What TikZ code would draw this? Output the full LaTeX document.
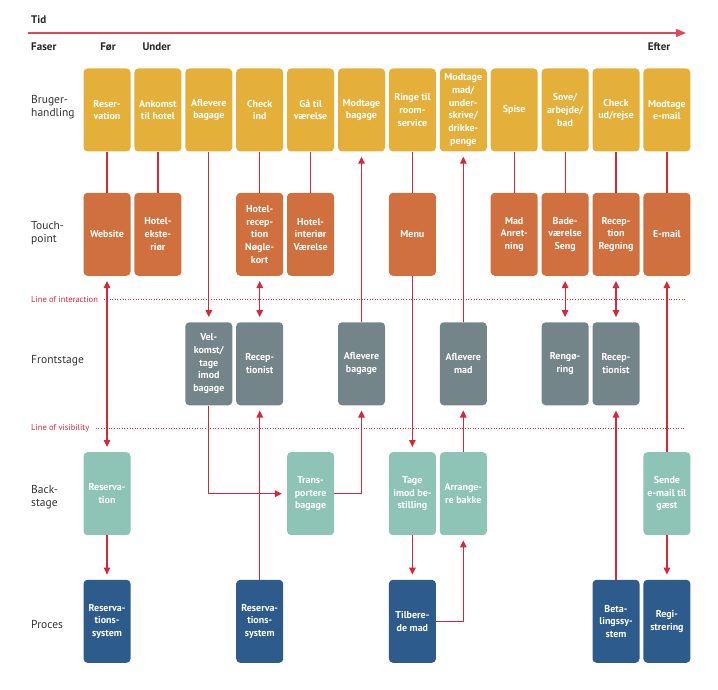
\documentclass[tikz,border=0pt]{standalone}
\usepackage{fontspec}
\setmainfont{PT Sans}
\usetikzlibrary{arrows.meta,positioning}
\definecolor{brugcol}{HTML}{E4B03A}
\definecolor{touchcol}{HTML}{D0703E}
\definecolor{frontcol}{HTML}{738589}
\definecolor{backcol}{HTML}{8EC4B5}
\definecolor{proccol}{HTML}{2D5B8C}
\definecolor{linecol}{HTML}{D62839}

\begin{document}
\begin{tikzpicture}[
    x=1pt,y=-1pt,
    node distance=3.5pt,
    box/.style={rounded corners=4pt,minimum height=83pt,minimum width=47pt,inner sep=0pt,align=center,text=white,font=\bfseries\fontsize{10}{12.7}\selectfont},
    brug/.style={box,fill=brugcol},
    touch/.style={box,fill=touchcol},
    front/.style={box,fill=frontcol},
    back/.style={box,fill=backcol},
    proc/.style={box,fill=proccol},
    rowlbl/.style={anchor=west,align=left,text=black!80,font=\fontsize{11.5}{13.5}\selectfont},
    head/.style={anchor=west,text=black!85,font=\bfseries\fontsize{11}{13}\selectfont},
    link/.style={linecol,line width=1.2pt},
    arr/.style={link,-{Triangle[length=7pt,width=6.5pt]},shorten >=5pt},
    darr/.style={link,{Triangle[length=7pt,width=6.5pt]}-{Triangle[length=7pt,width=6.5pt]},shorten >=5pt,shorten <=5pt},
    timearr/.style={linecol!85,line width=1.3pt,-{Triangle[length=10pt,width=8pt]}},
    sepline/.style={linecol,line width=0.7pt,dash pattern=on 1pt off 1.6pt},
    seplbl/.style={anchor=west,text=linecol,font=\fontsize{8.5}{10}\selectfont}
]
\useasboundingbox (0,0) rectangle (718,690);

% time axis and phases
\node[head] (tid) at (27.7,20) {Tid};
\coordinate (tstart) at (27.7,33);
\coordinate (tend) at (686,33);
\draw[timearr] (tstart) -- (tend);
\node[head] (faser) at (27.7,47) {Faser};
\node[head,anchor=center] (foer) at (108,47) {Før};
\node[head,anchor=center] (under) at (156.7,47) {Under};
\node[head,anchor=center] (efter) at (659,47) {Efter};

% row labels
\node[rowlbl] (lbrug) at (27.7,107) {Bruger-\\handling};
\node[rowlbl] (ltouch) at (27.7,233) {Touch-\\point};
\node[rowlbl] (lfront) at (27.7,361) {Frontstage};
\node[rowlbl] (lback) at (27.7,497) {Back-\\stage};
\node[rowlbl] (lproc) at (27.7,624) {Proces};

% row heights
\coordinate (tprow) at (0,234.3);
\coordinate (frrow) at (0,363.8);
\coordinate (bkrow) at (0,493.7);
\coordinate (prrow) at (0,621.3);

% brugerhandling
\node[brug] (b0) at (107,110) {Reser-\\vation};
\node[brug,right=of b0] (b1) {Ankomst\\til hotel};
\node[brug,right=of b1] (b2) {Aflevere\\bagage};
\node[brug,right=of b2] (b3) {Check\\ind};
\node[brug,right=of b3] (b4) {Gå til\\værelse};
\node[brug,right=of b4] (b5) {Modtage\\bagage};
\node[brug,right=of b5] (b6) {Ringe til\\room-\\service};
\node[brug,right=of b6] (b7) {Modtage\\mad/\\under-\\skrive/\\drikke-\\penge};
\node[brug,right=of b7] (b8) {Spise};
\node[brug,right=of b8] (b9) {Sove/\\arbejde/\\bad};
\node[brug,right=of b9] (b10) {Check\\ud/rejse};
\node[brug,right=of b10] (b11) {Modtage\\e-mail};

% touchpoint
\node[touch] (t0) at (b0 |- tprow) {Website};
\node[touch] (t1) at (b1 |- tprow) {Hotel-\\ekste-\\riør};
\node[touch] (t3) at (b3 |- tprow) {Hotel-\\recep-\\tion\\Nøgle-\\kort};
\node[touch] (t4) at (b4 |- tprow) {Hotel-\\interiør\\Værelse};
\node[touch] (t6) at (b6 |- tprow) {Menu};
\node[touch] (t8) at (b8 |- tprow) {Mad\\Anret-\\ning};
\node[touch] (t9) at (b9 |- tprow) {Bade-\\værelse\\Seng};
\node[touch] (t10) at (b10 |- tprow) {Recep-\\tion\\Regning};
\node[touch] (t11) at (b11 |- tprow) {E-mail};

% line of interaction
\node[seplbl] (loi) at (27.7,299.3) {Line of interaction};
\coordinate (loiend) at (686,299.3);
\draw[sepline] ([xshift=3pt]loi.east) -- (loiend);

% frontstage
\node[front] (f2) at (b2 |- frrow) {Vel-\\komst/\\tage\\imod\\bagage};
\node[front] (f3) at (b3 |- frrow) {Recep-\\tionist};
\node[front] (f5) at (b5 |- frrow) {Aflevere\\bagage};
\node[front] (f7) at (b7 |- frrow) {Aflevere\\mad};
\node[front] (f9) at (b9 |- frrow) {Rengø-\\ring};
\node[front] (f10) at (b10 |- frrow) {Recep-\\tionist};

% line of visibility
\node[seplbl] (lov) at (27.7,428.7) {Line of visibility};
\coordinate (lovend) at (686,428.7);
\draw[sepline] ([xshift=3pt]lov.east) -- (lovend);

% backstage
\node[back] (k0) at (b0 |- bkrow) {Reserva-\\tion};
\node[back] (k4) at (b4 |- bkrow) {Trans-\\portere\\bagage};
\node[back] (k6) at (b6 |- bkrow) {Tage\\imod be-\\stilling};
\node[back] (k7) at (b7 |- bkrow) {Arrange-\\re bakke};
\node[back] (k11) at (b11 |- bkrow) {Sende\\e-mail til\\gæst};

% proces
\node[proc] (p0) at (b0 |- prrow) {Reserva-\\tions-\\system};
\node[proc] (p3) at (b3 |- prrow) {Reserva-\\tions-\\system};
\node[proc] (p6) at (b6 |- prrow) {Tilbere-\\de mad};
\node[proc] (p10) at (b10 |- prrow) {Beta-\\lingssy-\\stem};
\node[proc] (p11) at (b11 |- prrow) {Regi-\\strering};

% connectors
\foreach \c in {0,1,3,4,6,8,9,10,11}
    \draw[link] (b\c) -- (t\c);
\draw[darr] (t0) -- (k0);
\draw[arr] (k0) -- (p0);
\draw[arr] (b2) -- (f2);
\draw[arr] (f2) |- (k4);
\draw[arr] (k4) -| (f5);
\draw[arr] (f5) -- (b5);
\draw[darr] (t3) -- (f3);
\draw[arr] (p3) -- (f3);
\draw[arr] (t6) -- (k6);
\draw[arr] (k6) -- (p6);
\draw[arr] (p6) -| (k7);
\draw[arr] (k7) -- (f7);
\draw[arr] (f7) -- (b7);
\draw[darr] (t9) -- (f9);
\draw[darr] (t10) -- (f10);
\draw[arr] (p10) -- (f10);
\draw[arr] (k11) -- (t11);
\draw[arr] (k11) -- (p11);
\end{tikzpicture}
\end{document}
